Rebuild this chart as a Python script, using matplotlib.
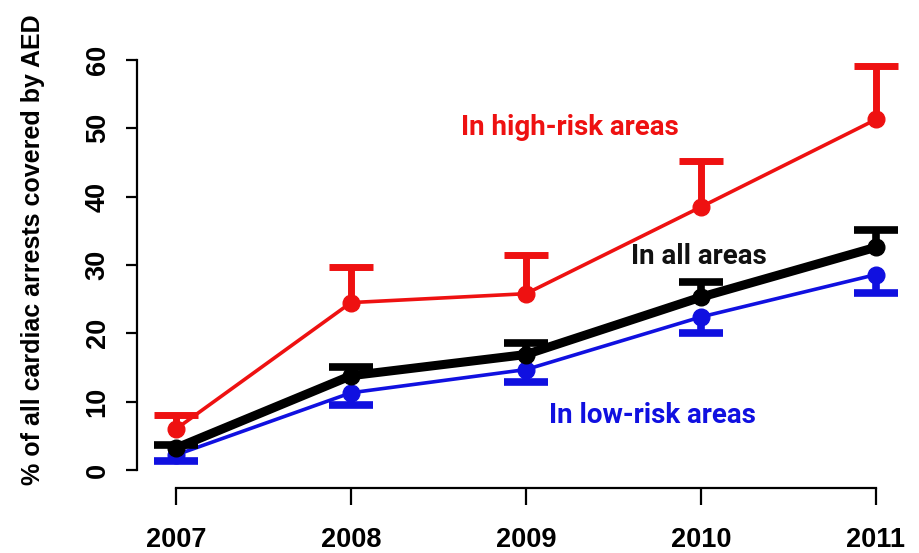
import matplotlib
matplotlib.use("Agg")
import matplotlib.pyplot as plt
import numpy as np

years = [2007, 2008, 2009, 2010, 2011]
ytick_vals = [0, 10, 20, 30, 40, 50, 60]

high_mean = [6.0, 24.5, 25.8, 38.5, 51.3]
high_upper = [8.1, 29.7, 31.5, 45.2, 59.1]

all_mean = [3.2, 13.8, 16.9, 25.3, 32.6]
all_upper = [3.7, 15.1, 18.6, 27.5, 35.1]

low_mean = [2.2, 11.3, 14.7, 22.4, 28.6]
low_lower = [1.3, 9.5, 12.9, 20.0, 25.9]

RED = "#ee1111"
BLUE = "#1010e0"
BLACK = "#000000"

plt.rcParams['font.family'] = ['Liberation Sans', 'DejaVu Sans']

fig = plt.figure(figsize=(9.19, 5.53), dpi=100)
ax = fig.add_axes([137/919, 1-488/553, 763/919, 448/553])

px_per_year = 175.0
ax.set_xlim(2007 - 39/px_per_year, 2011 + 24/px_per_year)
py = 410/60.0
ax.set_ylim(-18/py, 60 + 20/py)


def draw_series(mean, bound, color, lw, cap_lw, zorder):
    ax.vlines(years, mean, bound, colors=color, linewidth=cap_lw, zorder=zorder)
    ax.plot(years, bound, linestyle='none', marker='_', markersize=31,
            markeredgewidth=cap_lw, color=color, zorder=zorder)
    ax.plot(years, mean, color=color, linewidth=lw, marker='o', markersize=12,
            zorder=zorder + 0.5)


draw_series(low_mean, low_lower, BLUE, 2.6, 5.5, 3)
draw_series(all_mean, all_upper, BLACK, 6.5, 5.5, 4)
draw_series(high_mean, high_upper, RED, 2.6, 5.0, 5)

tfont = dict(fontsize=20, fontweight='bold', family=['Roboto', 'DejaVu Sans'])
ax.text(2009.25, 50.1, "In high-risk areas", color=RED, ha='center', va='center', **tfont)
ax.text(2009.99, 31.2, "In all areas", color='#111111', ha='center', va='center', **tfont)
ax.text(2009.72, 8.0, "In low-risk areas", color=BLUE, ha='center', va='center', **tfont)

for s in ['top', 'right']:
    ax.spines[s].set_visible(False)
ax.spines['left'].set_bounds(0, 60)
ax.spines['bottom'].set_bounds(2007, 2011)
ax.spines['left'].set_linewidth(1.6)
ax.spines['bottom'].set_linewidth(1.6)

ax.set_xticks(years)
ax.set_xticklabels([str(y) for y in years], fontsize=19.5, fontweight='bold')
ax.set_yticks(ytick_vals)
ax.set_yticklabels([str(v) for v in ytick_vals], fontsize=19.5, fontweight='bold',
                   rotation=90, va='center')
ax.tick_params(axis='x', length=12, width=1.6, pad=16)
ax.tick_params(axis='y', length=8, width=1.6, pad=11)

ax.set_ylabel("% of all cardiac arrests covered by AED", fontsize=18,
              fontweight='bold')
ax.yaxis.set_label_coords(-0.12, 0.531)

fig.savefig("out.png", dpi=100)
